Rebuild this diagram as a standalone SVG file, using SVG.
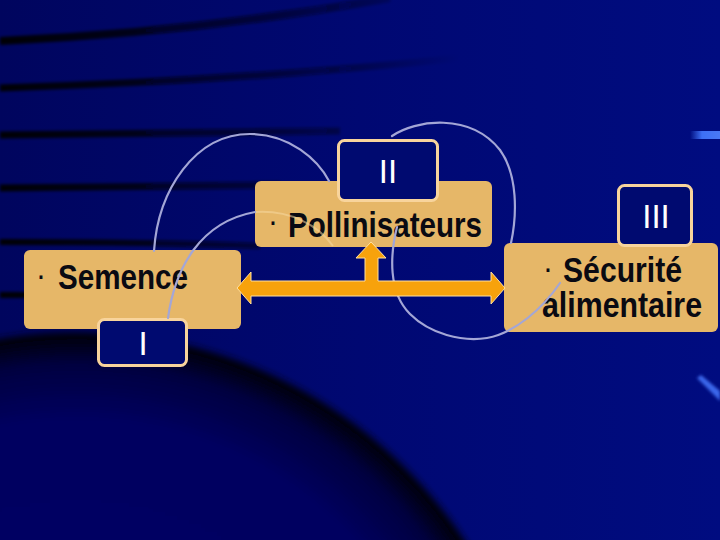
<svg xmlns="http://www.w3.org/2000/svg" width="720" height="540" viewBox="0 0 720 540">
<defs>
<linearGradient id="bg" x1="0" y1="0" x2="720" y2="0" gradientUnits="userSpaceOnUse">
<stop offset="0" stop-color="#00055e"/>
<stop offset="0.5" stop-color="#000872"/>
<stop offset="1" stop-color="#000c80"/>
</linearGradient>
<radialGradient id="arc" cx="77" cy="797" r="470" gradientUnits="userSpaceOnUse">
<stop offset="0" stop-color="#000668"/>
<stop offset="0.8" stop-color="#000560"/>
<stop offset="0.92" stop-color="#000340"/>
<stop offset="0.98" stop-color="#00000c"/>
<stop offset="1" stop-color="#000420" stop-opacity="0"/>
</radialGradient>
<linearGradient id="streak" x1="0" y1="0" x2="460" y2="0" gradientUnits="userSpaceOnUse">
<stop offset="0" stop-color="#000000" stop-opacity="0.95"/>
<stop offset="0.6" stop-color="#000010" stop-opacity="0.55"/>
<stop offset="1" stop-color="#000010" stop-opacity="0"/>
</linearGradient>
<linearGradient id="blueBar" x1="690" y1="0" x2="720" y2="0" gradientUnits="userSpaceOnUse">
<stop offset="0" stop-color="#3d6ff5" stop-opacity="0"/>
<stop offset="0.4" stop-color="#3d6ff5"/>
<stop offset="1" stop-color="#4a78f5"/>
</linearGradient>
<filter id="soft" x="-10%" y="-50%" width="120%" height="200%">
<feGaussianBlur stdDeviation="1.5"/>
</filter>
<filter id="soft2" x="-10%" y="-10%" width="120%" height="120%">
<feGaussianBlur stdDeviation="2"/>
</filter>
<style>
.box{fill:#e6b768;}
.lbl{fill:#000a70;stroke:#f8d49c;stroke-width:3;}
.txt{font-family:"Liberation Sans",Arial,sans-serif;font-weight:bold;font-size:35px;fill:#0a0a12;}
.bul{font-family:"DejaVu Sans",sans-serif;font-size:28px;fill:#0a0a12;text-anchor:middle;}
.num{font-family:"Liberation Sans",sans-serif;font-size:33px;fill:#ffffff;text-anchor:middle;}
.link{fill:none;stroke:#a3a6d6;stroke-width:2.2;stroke-linecap:round;}
.arrow{fill:#f7a20c;stroke:#ffe0a0;stroke-width:1;}
</style>
</defs>

<g id="background">
<rect x="0" y="0" width="720" height="540" fill="url(#bg)"/>
<circle cx="77" cy="797" r="470" fill="url(#arc)" filter="url(#soft2)"/>
<g fill="none" stroke="url(#streak)" filter="url(#soft)">
<path d="M0,41 Q200,32 390,-2" stroke-width="8"/>
<path d="M0,88 Q250,80 460,58" stroke-width="7"/>
<path d="M0,135 Q180,133 340,131" stroke-width="7"/>
<path d="M0,188 Q150,187 280,185" stroke-width="7"/>
<path d="M0,242 Q150,242 260,246" stroke-width="6"/>
<path d="M0,295 L30,295" stroke-width="6"/>
</g>
<rect x="690" y="131" width="30" height="8" fill="url(#blueBar)"/>
<polygon points="697,378 701,375 720,391 720,401" fill="#3a66ea" filter="url(#soft)"/>
</g>

<g id="nodes">
<g id="node-semence">
<rect class="box" x="24" y="250" width="217" height="79" rx="6"/>
<text class="bul" x="41" y="287">·</text>
<text class="txt" x="58" y="289" textLength="130" lengthAdjust="spacingAndGlyphs">Semence</text>
</g>
<g id="node-pollinisateurs">
<rect class="box" x="255" y="181" width="237" height="66" rx="6"/>
<text class="bul" x="273" y="233">·</text>
<text class="txt" x="288" y="237" textLength="194" lengthAdjust="spacingAndGlyphs">Pollinisateurs</text>
</g>
<g id="node-securite">
<rect class="box" x="504" y="243" width="214" height="89" rx="6"/>
<text class="bul" x="548" y="280">·</text>
<text class="txt" x="563" y="282" textLength="119" lengthAdjust="spacingAndGlyphs">Sécurité</text>
<text class="txt" x="542" y="317" textLength="160" lengthAdjust="spacingAndGlyphs">alimentaire</text>
</g>
<g id="label-I">
<rect class="lbl" x="98.5" y="319.5" width="88" height="46" rx="6"/>
<text class="num" x="143" y="355">I</text>
</g>
<g id="label-II">
<rect class="lbl" x="338.5" y="140.5" width="99" height="60" rx="6"/>
<text class="num" x="388" y="183">II</text>
</g>
<g id="label-III">
<rect class="lbl" x="618.5" y="185.5" width="73" height="60" rx="6"/>
<text class="num" x="656" y="228">III</text>
</g>
</g>

<g id="connectors">
<path class="link" d="M154,251 C158,190 195,134 250,134 C290,134 318,160 329,181"/>
<path class="link" d="M168,318 C175,268 200,222 255,212"/>
<path d="M256,212 C290,210 318,225 333,246" fill="none" stroke="#f6d9a0" stroke-width="2" opacity="0.55"/>
<path class="link" d="M392,136 C415,120 470,112 500,150 C518,175 517,215 511,243"/>
<path class="link" d="M397,227 C390,255 388,292 410,314 C430,334 462,342 487,338 C515,333 543,308 560,283"/>
<path class="arrow" d="M237,288 L251,272 L251,281 L365,281 L365,258 L356,258 L371,242 L386,258 L378,258 L378,281 L491,281 L491,272 L505,288 L491,304 L491,296 L251,296 L251,304 Z"/>
</g>
</svg>
